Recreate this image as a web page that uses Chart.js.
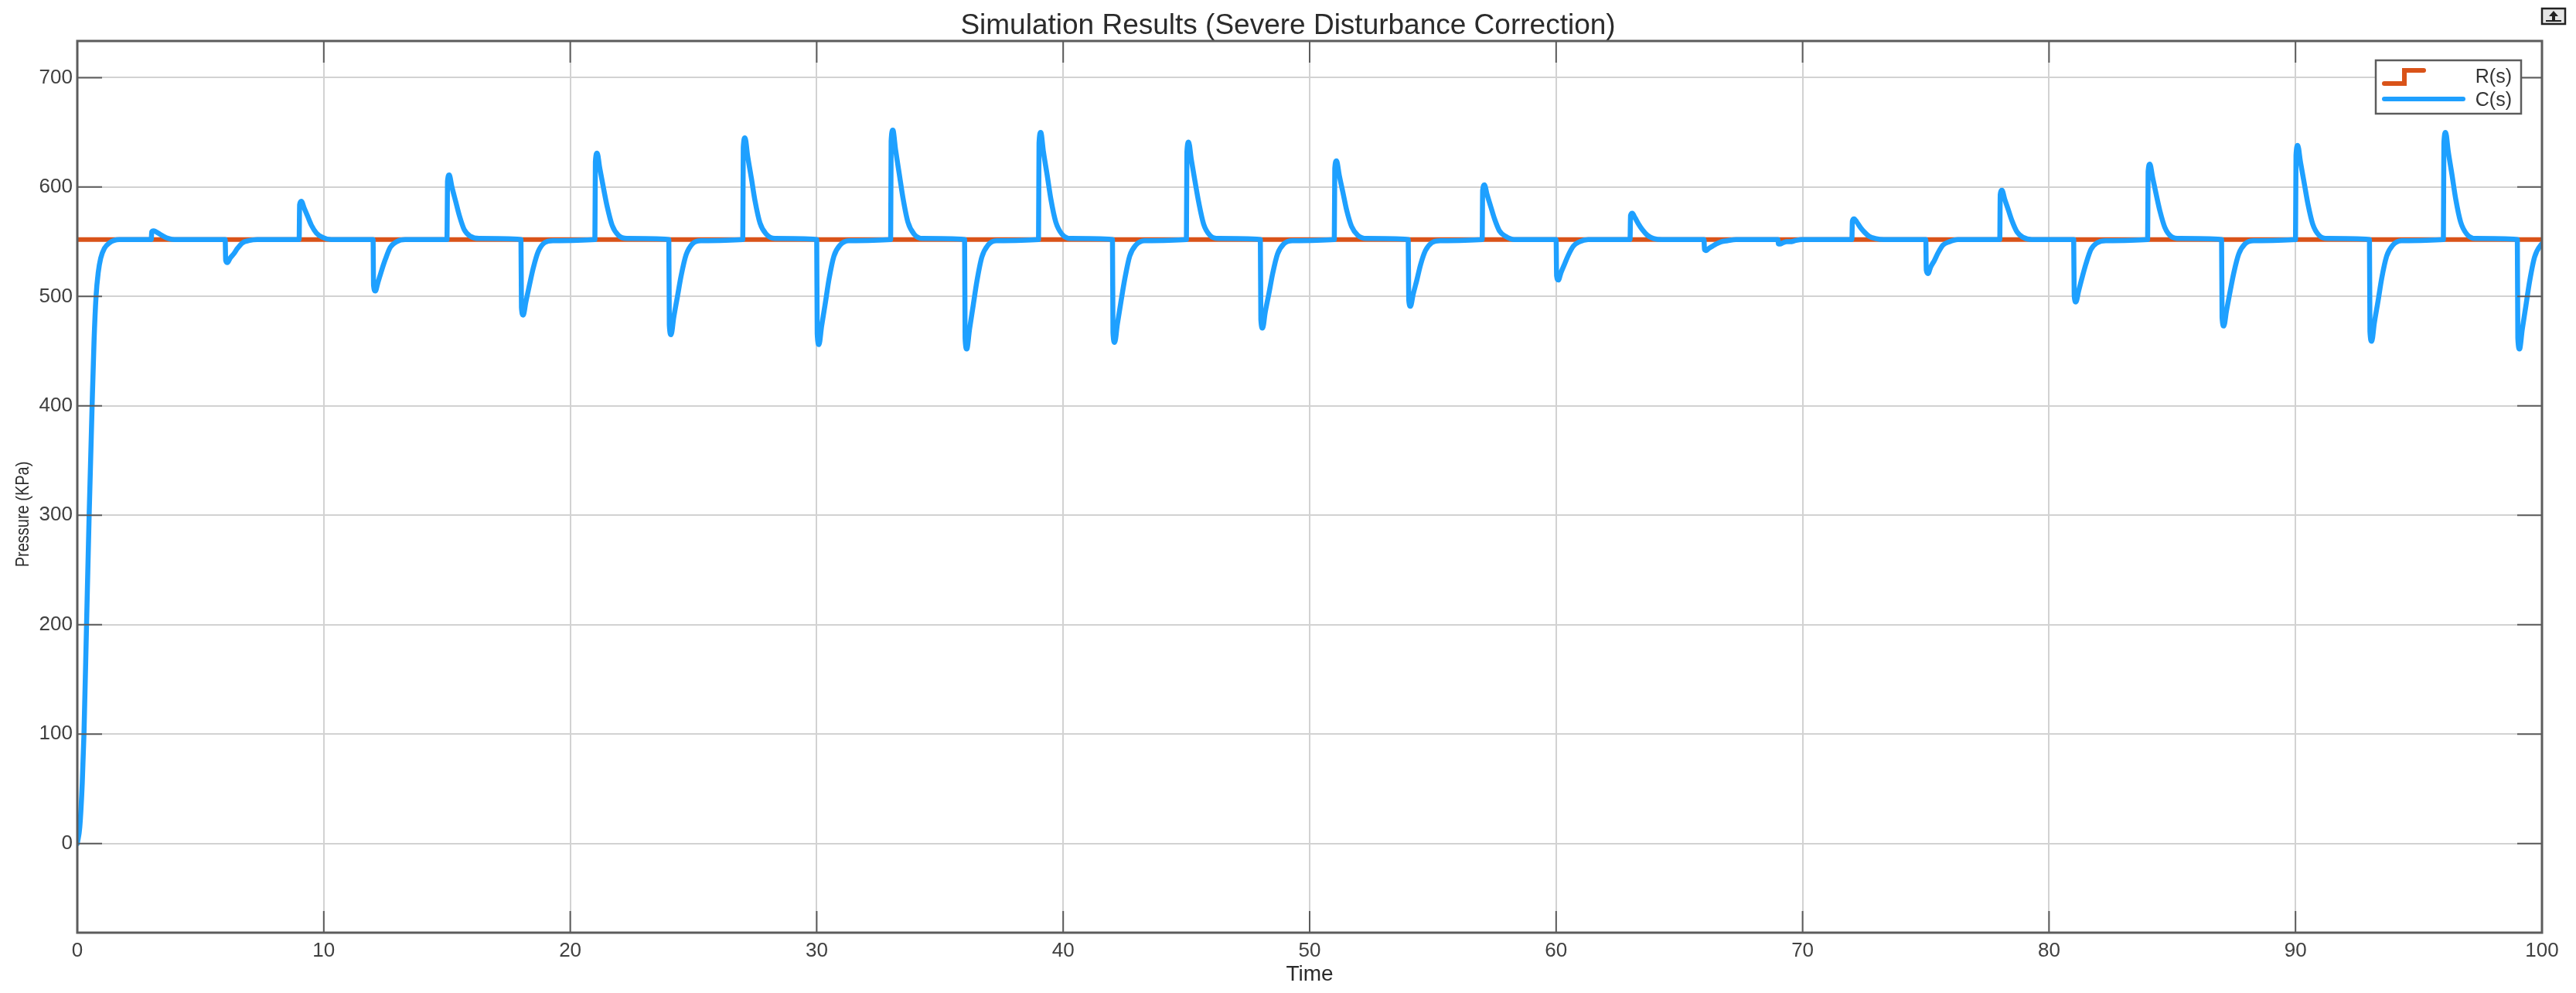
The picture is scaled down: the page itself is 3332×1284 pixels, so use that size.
<!DOCTYPE html>
<html>
<head>
<meta charset="utf-8">
<title>Simulation Results</title>
<script src="https://cdn.jsdelivr.net/npm/chart.js@4.4.1/dist/chart.umd.min.js"></script>
<style>
  body { margin: 0; background: #fff; }
  canvas { display: block; }
</style>
</head>
<body>
<canvas id="scopeChart" width="3332" height="1284"></canvas>
<script>
// reference R(s): constant set point
var refTime = [0, 100];
var refValue = [552, 552];

// C(s) start-up rise
var riseTime = [0, 0.1, 0.2, 0.27, 0.375, 0.48, 0.6, 0.68, 0.76, 0.85, 0.95, 1.1, 1.3, 1.7];
var riseValue = [0, 15, 55, 100, 200, 300, 400, 460, 500, 522, 535, 544, 549, 552];

// disturbance instants (every 3 s) and the C(s) values around each one
var eventTime = [3, 6, 9, 12, 15, 18, 21, 24, 27, 30, 33, 36, 39, 42, 45, 48, 51,
                 54, 57, 60, 63, 66, 69, 72, 75, 78, 81, 84, 87, 90, 93, 96, 99];
var pulseOffset = [0, 0.02, 0.09, 0.2, 0.35, 0.5, 0.7, 0.95, 1.3];
var pulseValue = [
    [552, 559, 560, 559, 557, 555, 553, 552, 552],
    [552, 533, 531, 535, 539, 544, 549, 551, 552],
    [552, 584, 587, 581, 573, 565, 558, 554, 552],
    [552, 510, 505, 513, 524, 534, 545, 550, 552],
    [552, 605, 611, 600, 587, 574, 561, 555, 553],
    [552, 490, 483, 495, 511, 526, 541, 549, 551],
    [552, 623, 631, 617, 599, 582, 565, 556, 553],
    [552, 474, 465, 481, 500, 519, 538, 548, 551],
    [552, 636, 645, 628, 608, 587, 567, 557, 553],
    [552, 466, 456, 473, 494, 516, 537, 547, 551],
    [552, 642, 652, 634, 612, 590, 568, 557, 553],
    [552, 462, 452, 470, 492, 514, 536, 547, 551],
    [552, 640, 650, 632, 611, 589, 568, 557, 553],
    [552, 467, 458, 475, 496, 516, 537, 547, 551],
    [552, 632, 641, 625, 605, 586, 566, 556, 553],
    [552, 479, 471, 486, 503, 521, 539, 548, 551],
    [552, 617, 624, 611, 595, 579, 564, 556, 553],
    [552, 497, 491, 502, 515, 529, 542, 549, 551],
    [552, 597, 602, 593, 582, 571, 560, 555, 552],
    [552, 519, 515, 522, 530, 538, 546, 550, 552],
    [552, 574, 576, 572, 566, 561, 556, 553, 552],
    [552, 543, 542, 544, 546, 548, 550, 551, 552],
    [552, 548, 548, 549, 550, 550, 551, 552, 552],
    [552, 569, 571, 568, 563, 559, 555, 553, 552],
    [552, 524, 521, 527, 533, 540, 547, 550, 552],
    [552, 593, 597, 589, 579, 569, 559, 554, 552],
    [552, 501, 495, 505, 518, 530, 543, 549, 551],
    [552, 614, 621, 609, 593, 578, 563, 555, 553],
    [552, 481, 473, 487, 505, 522, 539, 548, 551],
    [552, 629, 638, 623, 604, 585, 566, 556, 553],
    [552, 468, 459, 476, 496, 517, 537, 547, 551],
    [552, 640, 650, 632, 611, 589, 568, 557, 553],
    [552, 462, 452, 470, 492, 514, 536, 547, 551]
];

var xTicks = [0, 10, 20, 30, 40, 50, 60, 70, 80, 90, 100];
var yTicks = [0, 100, 200, 300, 400, 500, 600, 700];

var fontName = "'Liberation Sans', Arial, sans-serif";
var orange = '#d95319';
var blue = '#1ea0ff';
var axisGrey = '#5c5c5c';

function buildResponse() {
    var pts = riseTime.map(function (t, i) { return { x: t, y: riseValue[i] }; });
    eventTime.forEach(function (t0, i) {
        pulseOffset.forEach(function (o, j) {
            pts.push({ x: t0 + o, y: pulseValue[i][j] });
        });
    });
    return pts;
}

// MATLAB style box with inward ticks on all four sides
const axesBox = {
    id: 'axesBox',
    afterDatasetsDraw(chart) {
        const { ctx, chartArea: a, scales: { x, y } } = chart;
        ctx.save();
        ctx.strokeStyle = axisGrey;
        ctx.lineWidth = 2;
        ctx.beginPath();
        xTicks.forEach(function (v) {
            const px = x.getPixelForValue(v);
            ctx.moveTo(px, a.bottom); ctx.lineTo(px, a.bottom - 28);
            ctx.moveTo(px, a.top); ctx.lineTo(px, a.top + 28);
        });
        yTicks.forEach(function (v) {
            const py = y.getPixelForValue(v);
            ctx.moveTo(a.left, py); ctx.lineTo(a.left + 32, py);
            ctx.moveTo(a.right, py); ctx.lineTo(a.right - 32, py);
        });
        ctx.stroke();
        ctx.lineWidth = 3;
        ctx.strokeRect(a.left, a.top, a.right - a.left, a.bottom - a.top);

        // y axis label, a little below the middle and slightly widened like the scope export
        ctx.translate(30, 665);
        ctx.rotate(-Math.PI / 2);
        ctx.scale(1, 1.2);
        ctx.fillStyle = '#2b2b2b';
        ctx.font = '20px ' + fontName;
        ctx.textAlign = 'center';
        ctx.textBaseline = 'middle';
        ctx.fillText('Pressure (KPa)', 0, 0);
        ctx.restore();
    }
};

// legend box in the upper right corner, with the step symbol for R(s)
const scopeLegend = {
    id: 'scopeLegend',
    afterDraw(chart) {
        const ctx = chart.ctx;
        const a = chart.chartArea;
        const bx = a.right - 215, by = 78, bw = 188, bh = 69;
        ctx.save();
        ctx.fillStyle = '#fff';
        ctx.fillRect(bx, by, bw, bh);
        ctx.strokeStyle = axisGrey;
        ctx.lineWidth = 2.5;
        ctx.strokeRect(bx, by, bw, bh);

        ctx.lineWidth = 6;
        ctx.lineCap = 'round';
        ctx.strokeStyle = orange;
        ctx.beginPath();
        ctx.moveTo(bx + 11, by + 30);
        ctx.lineTo(bx + 37, by + 30);
        ctx.lineTo(bx + 37, by + 13);
        ctx.lineTo(bx + 62, by + 13);
        ctx.stroke();

        ctx.strokeStyle = blue;
        ctx.beginPath();
        ctx.moveTo(bx + 11, by + 50);
        ctx.lineTo(bx + 113, by + 50);
        ctx.stroke();

        ctx.fillStyle = '#333';
        ctx.font = '25px ' + fontName;
        ctx.textAlign = 'right';
        ctx.textBaseline = 'middle';
        ctx.fillText('R(s)', bx + 176, by + 22);
        ctx.fillText('C(s)', bx + 176, by + 52);

        // small undock button at the top right of the scope window
        ctx.fillStyle = '#e6e6e6';
        ctx.fillRect(3288, 11, 30, 20);
        ctx.strokeStyle = '#222';
        ctx.lineWidth = 2.5;
        ctx.strokeRect(3288, 11, 30, 20);
        ctx.fillStyle = '#222';
        ctx.beginPath();
        ctx.moveTo(3303, 14); ctx.lineTo(3297, 21); ctx.lineTo(3309, 21);
        ctx.closePath();
        ctx.fill();
        ctx.fillRect(3301, 21, 4, 7);
        ctx.fillRect(3293, 26, 20, 2);
        ctx.restore();
    }
};

function scopeChart() {
    new Chart(document.getElementById('scopeChart'), {
        type: 'line',
        data: {
            datasets: [{
                label: 'R(s)',
                data: refTime.map(function (t, i) { return { x: t, y: refValue[i] }; }),
                borderColor: orange,
                borderWidth: 6,
                pointRadius: 0,
                fill: false,
                order: 1
            }, {
                label: 'C(s)',
                data: buildResponse(),
                borderColor: blue,
                borderWidth: 6.5,
                borderJoinStyle: 'round',
                borderCapStyle: 'round',
                pointRadius: 0,
                fill: false,
                cubicInterpolationMode: 'monotone',
                order: 0
            }]
        },
        options: {
            responsive: false,
            animation: false,
            devicePixelRatio: 1,
            // equal side padding keeps the title centred on the whole figure
            layout: { padding: { left: 44, right: 44, top: 0, bottom: 0 } },
            plugins: {
                legend: { display: false },
                tooltip: { enabled: false },
                title: {
                    display: true,
                    text: 'Simulation Results (Severe Disturbance Correction)',
                    color: '#2b2b2b',
                    font: { family: fontName, size: 37, weight: 'normal', lineHeight: 1.0 },
                    padding: { top: 15, bottom: 1 }
                }
            },
            scales: {
                x: {
                    type: 'linear',
                    min: 0,
                    max: 100,
                    afterBuildTicks: function (scale) {
                        scale.ticks = xTicks.map(function (v) { return { value: v }; });
                    },
                    afterFit: function (scale) { scale.height = 78; },
                    grid: { color: '#d2d2d2', lineWidth: 2, drawTicks: false },
                    border: { display: false },
                    ticks: {
                        padding: 8,
                        maxRotation: 0,
                        color: '#404040',
                        font: { family: fontName, size: 26 }
                    },
                    title: {
                        display: true,
                        text: 'Time',
                        color: '#2b2b2b',
                        font: { family: fontName, size: 28, lineHeight: 1.2 },
                        padding: { top: 0, bottom: 7 }
                    }
                },
                y: {
                    type: 'linear',
                    min: -81.5,
                    max: 733.5,
                    afterBuildTicks: function (scale) {
                        scale.ticks = yTicks.map(function (v) { return { value: v }; });
                    },
                    afterFit: function (scale) { scale.width = 56; },
                    grid: { color: '#d2d2d2', lineWidth: 2, drawTicks: false },
                    border: { display: false },
                    ticks: {
                        padding: 6,
                        color: '#404040',
                        font: { family: fontName, size: 26 }
                    }
                }
            }
        },
        plugins: [axesBox, scopeLegend]
    });
}

scopeChart();
</script>
</body>
</html>
